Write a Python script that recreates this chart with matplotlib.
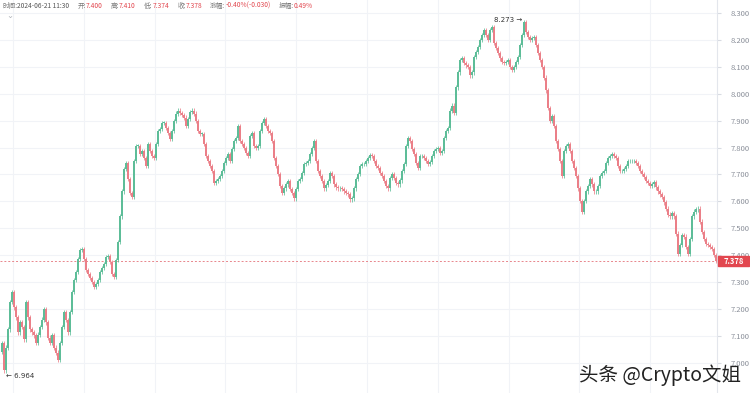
import matplotlib
matplotlib.use("Agg")
import matplotlib.pyplot as plt
import matplotlib.transforms as mtrans
from matplotlib.patches import Rectangle
import numpy as np

plt.rcParams['font.family'] = ['Noto Sans CJK SC', 'DejaVu Sans']

# closing prices, one per candle (open = previous close)
closes = [
    7.075, 6.972, 7.057, 7.124, 7.225, 7.263, 7.206, 7.169, 7.113, 7.150,
    7.132, 7.087, 7.225, 7.169, 7.124, 7.113, 7.102, 7.075, 7.105, 7.132,
    7.161, 7.199, 7.150, 7.094, 7.075, 7.102, 7.057, 7.038, 7.012, 7.075,
    7.132, 7.188, 7.158, 7.113, 7.188, 7.263, 7.307, 7.337, 7.386, 7.420,
    7.424, 7.386, 7.345, 7.330, 7.315, 7.300, 7.281, 7.293, 7.307, 7.337,
    7.352, 7.367, 7.394, 7.397, 7.375, 7.330, 7.319, 7.382, 7.450, 7.544,
    7.637, 7.719, 7.742, 7.682, 7.630, 7.618, 7.749, 7.806, 7.806, 7.776,
    7.787, 7.761, 7.731, 7.813, 7.787, 7.768, 7.761, 7.813, 7.862, 7.869,
    7.892, 7.892, 7.873, 7.854, 7.832, 7.862, 7.899, 7.926, 7.937, 7.929,
    7.922, 7.911, 7.881, 7.907, 7.933, 7.937, 7.926, 7.899, 7.862, 7.851,
    7.851, 7.813, 7.768, 7.749, 7.731, 7.712, 7.667, 7.675, 7.682, 7.693,
    7.712, 7.742, 7.761, 7.776, 7.749, 7.794, 7.824, 7.836, 7.881, 7.824,
    7.813, 7.798, 7.779, 7.768, 7.843, 7.854, 7.806, 7.798, 7.806, 7.862,
    7.892, 7.907, 7.881, 7.862, 7.854, 7.824, 7.761, 7.731, 7.701, 7.656,
    7.630, 7.648, 7.663, 7.675, 7.645, 7.630, 7.611, 7.645, 7.675, 7.682,
    7.705, 7.738, 7.742, 7.749, 7.776, 7.798, 7.824, 7.749, 7.712, 7.693,
    7.675, 7.648, 7.660, 7.675, 7.705, 7.693, 7.663, 7.652, 7.648, 7.648,
    7.645, 7.637, 7.630, 7.626, 7.607, 7.611, 7.648, 7.682, 7.701, 7.731,
    7.738, 7.738, 7.749, 7.761, 7.772, 7.768, 7.749, 7.731, 7.723, 7.705,
    7.693, 7.675, 7.656, 7.648, 7.686, 7.701, 7.686, 7.667, 7.663, 7.678,
    7.712, 7.738, 7.806, 7.836, 7.824, 7.794, 7.776, 7.742, 7.723, 7.768,
    7.768, 7.761, 7.749, 7.738, 7.746, 7.768, 7.787, 7.794, 7.798, 7.779,
    7.787, 7.836, 7.862, 7.873, 7.937, 7.956, 7.929, 8.023, 8.079, 8.124,
    8.131, 8.113, 8.105, 8.098, 8.068, 8.079, 8.135, 8.154, 8.173, 8.199,
    8.218, 8.236, 8.218, 8.199, 8.236, 8.248, 8.188, 8.169, 8.150, 8.131,
    8.117, 8.113, 8.117, 8.124, 8.098, 8.087, 8.098, 8.117, 8.135, 8.180,
    8.218, 8.265, 8.229, 8.210, 8.199, 8.206, 8.210, 8.180, 8.150, 8.124,
    8.098, 8.060, 8.012, 7.948, 7.899, 7.918, 7.881, 7.824, 7.794, 7.749,
    7.693, 7.787, 7.806, 7.813, 7.787, 7.749, 7.723, 7.693, 7.648, 7.600,
    7.562, 7.600, 7.637, 7.656, 7.682, 7.663, 7.637, 7.637, 7.656, 7.693,
    7.705, 7.712, 7.742, 7.761, 7.768, 7.776, 7.768, 7.761, 7.731, 7.712,
    7.712, 7.719, 7.731, 7.749, 7.749, 7.749, 7.749, 7.742, 7.731, 7.712,
    7.701, 7.690, 7.675, 7.667, 7.656, 7.663, 7.671, 7.652, 7.637, 7.626,
    7.615, 7.596, 7.573, 7.551, 7.544, 7.555, 7.544, 7.480, 7.405, 7.439,
    7.476, 7.469, 7.431, 7.405, 7.461, 7.544, 7.562, 7.570, 7.573, 7.525,
    7.487, 7.461, 7.442, 7.439, 7.431, 7.424, 7.400, 7.378,
]
first_open = 7.040
wick = 0.008

y_ticks = [7.0, 7.1, 7.2, 7.3, 7.4, 7.5, 7.6, 7.7, 7.8, 7.9, 8.0, 8.1, 8.2, 8.3]
last_price = 7.378

header = [("时间:", "2024-06-21 11:30"), ("开:", "7.400"), ("高:", "7.410"),
          ("低:", "7.374"), ("收:", "7.378"), ("涨幅:", "-0.40%(-0.030)"),
          ("振幅:", "0.49%")]

UP = "#5dbd98"
DOWN = "#eb7f88"

closes = np.array(closes)
opens = np.concatenate([[first_open], closes[:-1]])
highs = np.maximum(opens, closes) + wick
lows = np.minimum(opens, closes) - wick
x = np.arange(len(closes))
colors = [UP if c >= o else DOWN for o, c in zip(opens, closes)]

fig = plt.figure(figsize=(7.5, 3.93), dpi=100)
ax = fig.add_axes([0, 0, 717 / 750, 1])

ax.vlines(x, lows, highs, colors=colors, linewidth=0.55, zorder=2)
body = np.maximum(np.abs(closes - opens), 0.002)
ax.bar(x, body, bottom=np.minimum(opens, closes), width=0.6,
       color=colors, linewidth=0, zorder=3)

ax.set_xlim(-1, len(closes) - 0.5)
ax.set_ylim(6.888, 8.348)

# grid
for t in y_ticks:
    ax.axhline(t, color="#f1f3f7", linewidth=0.8, zorder=0)
for gx in np.arange(5.5, len(closes), 35.4):
    ax.axvline(gx, color="#f1f3f7", linewidth=0.8, zorder=0)

ax.yaxis.tick_right()
ax.set_yticks(y_ticks)
ax.set_yticklabels([f"{t:.3f}" for t in y_ticks])
ax.tick_params(axis="y", length=3, color="#d8dbe2", labelsize=5.5,
               labelcolor="#8a8f99", pad=7)
ax.set_xticks([])
for s in ["top", "left", "bottom"]:
    ax.spines[s].set_visible(False)
ax.spines["right"].set_color("#e3e6ec")
ax.spines["right"].set_linewidth(0.8)

# last price line + tag
ax.axhline(last_price, color="#e8868c", linewidth=0.7, linestyle=(0, (2, 2)), zorder=1)
bt = mtrans.blended_transform_factory(fig.transFigure, ax.transData)
ax.add_patch(Rectangle((718 / 750, last_price - 0.019), 31 / 750, 0.038,
                       transform=bt, color="#e2474f", clip_on=False, zorder=5))
ax.text(734 / 750, last_price, f"{last_price:.3f}", transform=bt, color="white",
        fontsize=5.5, ha="center", va="center", zorder=6, fontweight="bold")

# max / min markers
imax = int(np.argmax(highs))
imin = int(np.argmin(lows))
ax.text(imax - 1.0, highs[imax], f"{highs[imax]:.3f} →", fontsize=5, color="#333333",
        ha="right", va="center", family=["DejaVu Sans"])
ax.text(imin + 1.0, lows[imin] - 0.012, f"← {lows[imin]:.3f}", fontsize=5, color="#333333",
        ha="left", va="center", family=["DejaVu Sans"])

# header row, laid out piece by piece
fig.canvas.draw()
renderer = fig.canvas.get_renderer()
px = 2.0
yh = 1 - 6 / 393
for lab, val in header:
    t1 = fig.text(px / 750, yh, lab, fontsize=4.8, color="#777777", va="center")
    px += t1.get_window_extent(renderer).width
    t2 = fig.text(px / 750, yh, val, fontsize=4.8, va="center",
                  color="#555555" if lab == "时间:" else "#e2474f")
    px += t2.get_window_extent(renderer).width + 8
fig.text(10 / 750, 1 - 15 / 393, "⌄", fontsize=6, color="#b0b4bb", ha="center",
         va="center", family=["DejaVu Sans"])

# watermark
fig.text(741 / 750, 1 - 375 / 393, "头条 @Crypto文姐", fontsize=14, color="#222222",
         ha="right", va="center")

fig.savefig("out.png", dpi=100)
